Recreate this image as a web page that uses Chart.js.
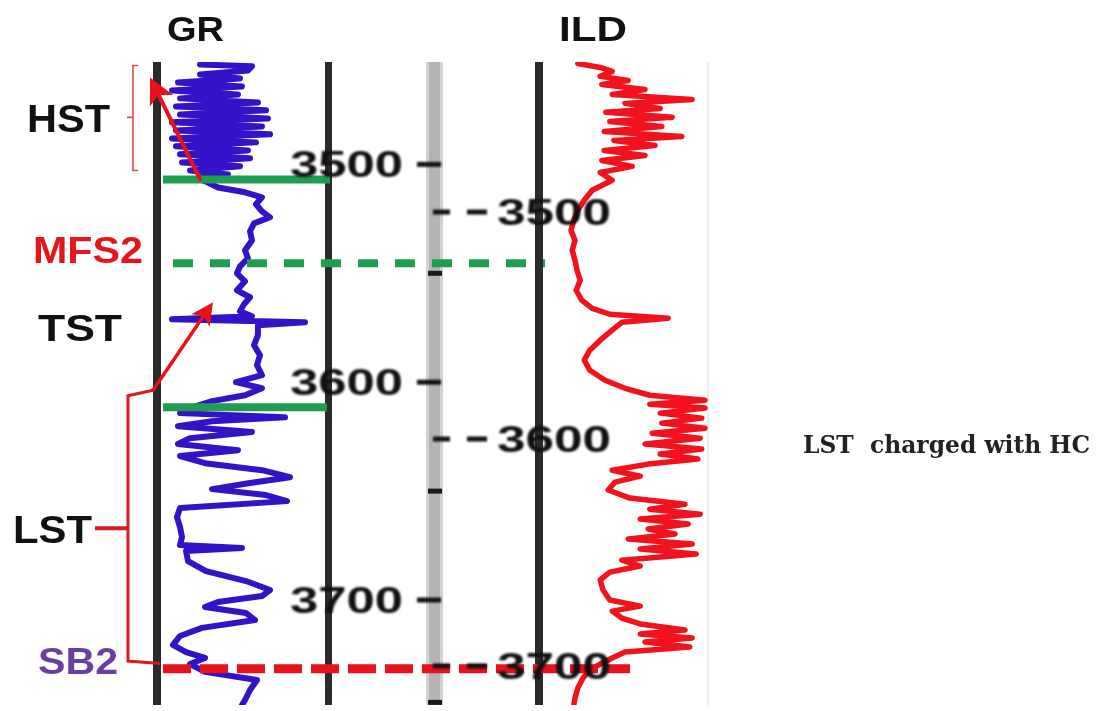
<!DOCTYPE html>
<html><head><meta charset="utf-8">
<script src="https://cdn.jsdelivr.net/npm/chart.js@4.4.1/dist/chart.umd.min.js"></script>
<style>html,body{margin:0;padding:0;background:#fff;}#wrap{position:relative;width:1104px;height:711px;}</style>
</head><body><div id="wrap"><canvas id="c"></canvas></div>
<script>
// ---- data (depth in m, GR in API, ILD in ohm.m) ----
const grDepth = [3454.1,3455.0,3456.9,3458.7,3460.6,3462.4,3464.2,3466.1,3467.9,3469.7,3471.6,3473.4,3475.2,3477.1,3478.9,3480.7,3482.6,3484.4,3486.2,3488.1,3489.9,3491.7,3493.6,3495.4,3497.2,3499.1,3500.9,3502.8,3504.6,3506.4,3508.3,3510.6,3512.8,3515.1,3518.3,3521.6,3524.3,3527.1,3530.7,3534.9,3539.4,3543.1,3546.8,3550.0,3553.7,3557.8,3561.0,3564.2,3567.4,3569.7,3571.1,3572.5,3573.9,3578.4,3583.0,3587.6,3592.2,3596.8,3600.0,3602.8,3606.0,3608.7,3611.9,3614.2,3616.1,3617.9,3620.2,3622.9,3625.7,3628.4,3631.2,3633.9,3637.2,3640.4,3643.6,3646.3,3649.1,3651.8,3654.6,3657.8,3661.9,3666.5,3671.1,3674.8,3676.1,3677.5,3682.1,3686.7,3691.3,3695.4,3698.2,3700.9,3703.2,3706.0,3709.2,3712.8,3716.5,3720.6,3723.9,3726.6,3729.4,3733.0,3736.7,3741.3,3745.9,3748.2];
const grValues = [35.0,82.8,79.1,35.0,71.8,14.7,73.6,9.2,69.9,16.6,88.3,12.9,95.7,16.6,97.5,9.2,92.0,12.9,99.4,9.2,86.5,12.9,79.1,16.6,81.0,18.4,71.8,25.8,60.7,33.1,42.3,51.5,76.4,92.0,86.5,92.0,99.4,84.7,81.0,82.8,76.4,79.1,71.8,69.0,76.4,69.0,81.0,75.5,71.8,82.8,9.2,131.6,88.3,88.3,84.7,90.2,87.4,92.0,68.1,92.0,76.4,46.0,25.8,16.6,113.2,46.0,14.7,82.8,25.8,14.7,69.9,16.6,39.6,92.0,117.8,81.0,46.0,95.7,115.0,16.6,13.8,16.6,18.4,16.6,73.6,22.1,23.9,40.5,77.3,99.4,92.0,51.5,39.6,77.3,85.6,36.8,16.6,10.1,22.1,39.6,25.8,39.6,87.4,81.0,76.4,73.6];
const ildDepth = [3453.7,3455.5,3457.3,3459.6,3461.5,3463.3,3465.6,3467.9,3470.2,3472.0,3474.3,3476.1,3478.4,3480.3,3482.6,3484.9,3487.2,3489.0,3491.3,3493.6,3495.9,3498.2,3500.9,3503.7,3507.3,3511.9,3516.5,3521.1,3525.7,3530.3,3534.9,3539.4,3544.0,3548.6,3553.2,3557.8,3562.4,3566.1,3568.8,3570.6,3572.5,3576.1,3580.7,3585.3,3589.9,3594.5,3599.1,3602.8,3606.0,3608.3,3610.1,3611.9,3614.2,3616.5,3618.8,3621.1,3623.4,3625.7,3628.4,3630.7,3633.0,3635.3,3637.6,3640.4,3643.1,3645.9,3649.5,3653.2,3656.0,3658.3,3660.6,3662.8,3665.1,3667.4,3669.7,3672.0,3674.3,3676.6,3678.9,3681.7,3684.4,3687.2,3690.8,3695.4,3700.0,3702.8,3705.1,3708.3,3711.0,3713.8,3715.6,3717.4,3719.3,3721.6,3723.9,3726.6,3729.4,3732.1,3735.8,3740.4,3745.0,3748.2];
const ildValues = [4.1,6.9,8.4,6.9,10.4,7.1,12.5,8.4,18.4,10.0,14.4,7.6,15.9,8.1,14.6,7.4,17.1,8.6,13.75,7.4,12.5,7.1,10.9,6.9,8.4,5.9,4.9,4.1,3.6,3.25,3.75,3.4,3.75,4.0,4.4,3.9,4.6,5.9,8.1,15.4,9.6,8.4,6.9,5.6,4.9,5.6,7.5,10.0,13.1,20.0,13.1,20.0,14.4,19.6,14.6,20.0,13.4,19.4,12.5,19.6,14.4,19.1,12.9,8.4,11.9,8.75,7.9,10.6,17.5,13.1,19.4,11.9,17.9,12.9,16.25,10.4,18.4,11.9,18.9,9.6,11.9,8.1,6.9,7.25,8.1,11.9,8.4,9.6,11.9,17.5,11.9,18.4,12.5,18.1,10.0,8.4,6.9,5.6,4.75,4.1,3.75,3.6];
const leftDepthTicks = [3500, 3600, 3700];
const rightDepthTicks = [3500, 3600, 3700];
const minorDepthTicks = [3550, 3650, 3747];
const surfaceNames = ['HST base', 'MFS2', 'TST base', 'SB2'];
const surfaceDepths = [3506.9, 3545.4, 3611.5, 3731.6];
const surfaceFrom = [0.9, 10.1, 0.9, 0.9];
const surfaceTo = [154.6, 352.5, 151.8, 430.7];
const trackTitles = ['GR', 'ILD'];
const systemTracts = ['HST', 'MFS2', 'TST', 'LST', 'SB2'];
const sideNote = 'LST  charged with HC';

// ---- styles ----
const surfaceStyle = {
  'HST base': {c:'#1f9e52', w:8, d:[]},
  'MFS2': {c:'#1f9e52', w:8, d:[20,17]},
  'TST base': {c:'#1f9e52', w:8, d:[]},
  'SB2': {c:'#e8121c', w:9, d:[28,9]}
};

const datasets = [];
surfaceNames.forEach((n,i)=>{
  const s = surfaceStyle[n];
  datasets.push({label:n, data:[{x:surfaceFrom[i],y:surfaceDepths[i]},{x:surfaceTo[i],y:surfaceDepths[i]}],
    xAxisID:'xGR', yAxisID:'y', showLine:true, borderColor:s.c, borderWidth:s.w, borderDash:s.d,
    borderCapStyle:'butt', pointRadius:0, order:0});
});
datasets.push({label:'GR', data:grDepth.map((d,i)=>({x:grValues[i], y:d})), xAxisID:'xGR', yAxisID:'y',
  showLine:true, borderColor:'#3312c8', borderWidth:6, pointRadius:0, tension:0, borderJoinStyle:'round', borderCapStyle:'round', order:2});
datasets.push({label:'ILD', data:ildDepth.map((d,i)=>({x:ildValues[i], y:d})), xAxisID:'xILD', yAxisID:'y',
  showLine:true, borderColor:'#f2121e', borderWidth:5.5, pointRadius:0, tension:0, borderJoinStyle:'round', borderCapStyle:'round', order:2});

function capText(ctx, txt, left, cy, width, size, color, family, weight, capRatio){
  ctx.save();
  ctx.font = `${weight} ${size}px ${family}`;
  ctx.fillStyle = color; ctx.textAlign='left'; ctx.textBaseline='alphabetic';
  const w = ctx.measureText(txt).width;
  ctx.translate(left, cy + size*capRatio/2);
  ctx.scale(width/w, 1);
  ctx.fillText(txt, 0, 0);
  ctx.restore();
}
function arrow(ctx,x1,y1,x2,y2,w,head,color){
  const a = Math.atan2(y2-y1,x2-x1), c=Math.cos(a), s=Math.sin(a);
  ctx.save(); ctx.strokeStyle=color; ctx.fillStyle=color; ctx.lineWidth=w; ctx.lineCap='round';
  ctx.beginPath(); ctx.moveTo(x1,y1); ctx.lineTo(x2-head*0.8*c, y2-head*0.8*s); ctx.stroke();
  ctx.beginPath(); ctx.moveTo(x2,y2);
  ctx.lineTo(x2-head*c+head*0.5*s, y2-head*s-head*0.5*c);
  ctx.lineTo(x2-head*0.75*c, y2-head*0.75*s);
  ctx.lineTo(x2-head*c-head*0.5*s, y2-head*s+head*0.5*c);
  ctx.closePath(); ctx.fill(); ctx.restore();
}

const deco = {
  id:'deco',
  beforeDatasetsDraw(chart){
    const ctx = chart.ctx, top = chart.chartArea.top, bottom = chart.chartArea.bottom;
    ctx.save();
    // depth track (grey)
    ctx.fillStyle = '#d2d2d2'; ctx.fillRect(426, top, 17, bottom-top);
    ctx.fillStyle = '#b4b4b4'; ctx.fillRect(429, top, 11, bottom-top);
    // faint right border of ILD track
    ctx.fillStyle = '#ececec'; ctx.fillRect(707, top, 2, bottom-top);
    // black track borders
    ctx.fillStyle = '#2a2a2a';
    ctx.fillRect(153, top, 8, bottom-top);
    ctx.fillRect(325, top, 7, bottom-top);
    ctx.fillRect(535, top, 8, bottom-top);
    // minor ticks on depth track
    const y = chart.scales.y;
    ctx.fillStyle = '#1a1a1a';
    minorDepthTicks.forEach(d=>{ ctx.fillRect(428, y.getPixelForValue(d)-2.5, 14, 5); });
    ctx.restore();
    // soften the curves like the scanned original
    ctx.save();
    ctx.filter = 'blur(0.7px)';
  },
  afterDatasetsDraw(chart){
    const ctx = chart.ctx;
    ctx.restore();
    const y = chart.scales.y, y2 = chart.scales.y2, xg = chart.scales.xGR;
    const P = (g,d)=>[xg.getPixelForValue(g), y.getPixelForValue(d)];
    // depth labels (blurred like the scanned log)
    ctx.save();
    ctx.filter = 'blur(1.3px)';
    leftDepthTicks.forEach(d=>{
      const py = y.getPixelForValue(d);
      capText(ctx, String(d), 290, py, 113, 36, '#111', '"Liberation Sans", Arial, sans-serif', 'bold', 0.716);
      ctx.fillStyle='#111'; ctx.fillRect(417, py-2.5, 24, 5);
    });
    rightDepthTicks.forEach(d=>{
      const py = y2.getPixelForValue(d);
      ctx.fillStyle='#111'; ctx.fillRect(433, py-2.5, 17, 5); ctx.fillRect(467, py-2.5, 20, 5);
      capText(ctx, String(d), 497, py, 114, 36, '#111', '"Liberation Sans", Arial, sans-serif', 'bold', 0.716);
    });
    ctx.restore();

    // annotations
    ctx.save();
    const red = '#e8121c';
    // HST bracket
    ctx.strokeStyle = '#d84848'; ctx.lineWidth = 1.6;
    let a = P(-22.1,3454.6), b = P(-26.7,3454.6), c = P(-26.7,3502.8), e = P(-22.1,3502.8);
    ctx.beginPath(); ctx.moveTo(a[0],a[1]); ctx.lineTo(b[0],b[1]); ctx.lineTo(c[0],c[1]); ctx.lineTo(e[0],e[1]); ctx.stroke();
    let m1 = P(-26.7,3478.4), m2 = P(-32.2,3478.4);
    ctx.beginPath(); ctx.moveTo(m1[0],m1[1]); ctx.lineTo(m2[0],m2[1]); ctx.stroke();
    // LST bracket
    ctx.strokeStyle = '#d41c22'; ctx.lineWidth = 3; ctx.lineJoin='miter';
    const br = [P(-8.3,3603.7),P(-31.3,3606.2),P(-31.3,3728.0),P(-1.8,3729.2)];
    ctx.beginPath(); ctx.moveTo(br[0][0],br[0][1]); br.slice(1).forEach(p=>ctx.lineTo(p[0],p[1])); ctx.stroke();
    const n1 = P(-61.7,3667.0), n2 = P(-31.3,3667.0);
    ctx.lineWidth = 4; ctx.beginPath(); ctx.moveTo(n1[0],n1[1]); ctx.lineTo(n2[0],n2[1]); ctx.stroke();
    // arrows
    let t1 = P(35.0,3506.9), h1 = P(-11.0,3460.1);
    arrow(ctx, t1[0],t1[1],h1[0],h1[1], 4, 26, red);
    let t2 = P(-8.3,3603.7), h2 = P(46.9,3563.3);
    arrow(ctx, t2[0],t2[1],h2[0],h2[1], 3.5, 22, red);
    ctx.restore();

    // texts
    const F = '"Liberation Sans", Arial, sans-serif';
    capText(ctx, trackTitles[0], 167, 28, 57, 35, '#111', F, 'bold', 0.716);
    capText(ctx, trackTitles[1], 559, 28, 68, 35, '#111', F, 'bold', 0.716);
    capText(ctx, systemTracts[0], 27, 118, 83, 38, '#111', F, 'bold', 0.716);
    capText(ctx, systemTracts[1], 33, 250, 110, 37, '#e8141c', F, 'bold', 0.716);
    capText(ctx, systemTracts[2], 38, 328, 84, 37, '#111', F, 'bold', 0.716);
    capText(ctx, systemTracts[3], 13, 529, 79, 38, '#111', F, 'bold', 0.716);
    capText(ctx, systemTracts[4], 38, 661, 80, 37, '#6b3fa0', F, 'bold', 0.716);
    capText(ctx, sideNote, 803, 444, 287, 24, '#222', '"DejaVu Serif", serif', 'bold', 0.73);
  }
};

new Chart(document.getElementById('c'), {
  type:'scatter',
  data:{datasets},
  options:{
    responsive:true, maintainAspectRatio:false, animation:false,
    layout:{padding:{left:150, right:394, top:62, bottom:6}},
    plugins:{legend:{display:false}, tooltip:{enabled:false}},
    scales:{
      xGR:{type:'linear', axis:'x', min:-11.04, max:504.3, display:false},
      xILD:{type:'linear', axis:'x', min:-49.375, max:20.625, display:false},
      y:{type:'linear', axis:'y', reverse:true, min:3453.0, max:3748.2, display:false},
      y2:{type:'linear', axis:'y', reverse:true, min:3433.9, max:3717.2, display:false}
    }
  },
  plugins:[deco]
});
</script></body></html>
